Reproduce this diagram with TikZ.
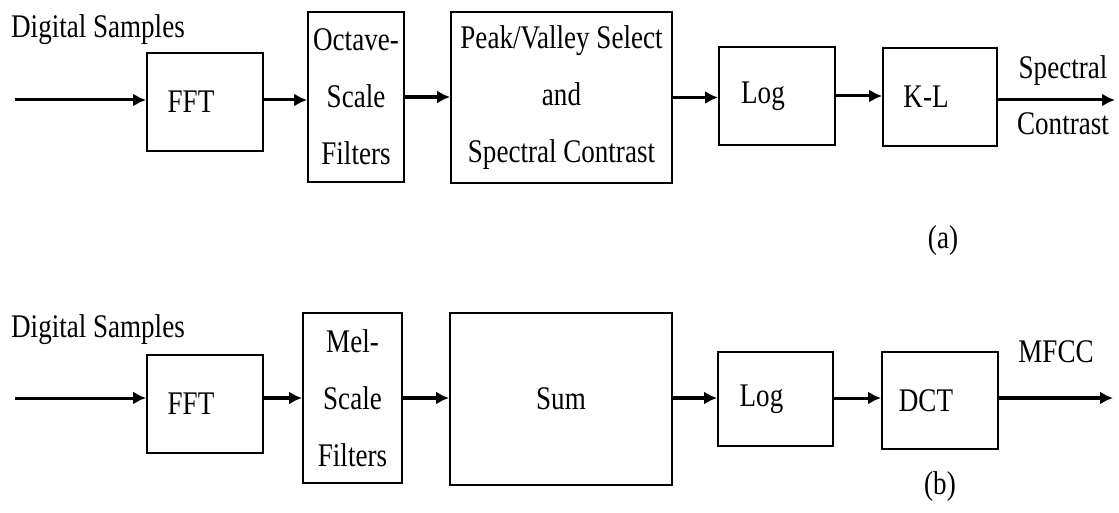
\documentclass[tikz,border=0pt]{standalone}
\usepackage{fontspec}
\setmainfont{Liberation Serif}[FakeStretch=0.82]
\usetikzlibrary{arrows.meta}
\begin{document}
\begin{tikzpicture}[x=1pt,y=-1pt,
  box/.style={draw, line width=1.8pt, inner sep=0pt},
  lbl/.style={font=\fontsize{33}{38}\selectfont, inner sep=0pt},
  inlbl/.style={lbl, xshift=-14pt},
  txt/.style={font=\fontsize{33}{57}\selectfont, align=center},
  arr/.style={line width=3pt, -{Latex[length=13pt,width=13pt]}},
  heavy/.style={arr, line width=4.2pt}]
\useasboundingbox (0,0) rectangle (1119,513);

% ---------- (a) spectral contrast ----------
\node[lbl] (digA) at (98,30) {Digital Samples};
\node[box, minimum width=116pt, minimum height=98pt,
      label={[inlbl]center:FFT}] (fftA) at (205,102) {};
\node[box, txt, minimum width=96pt, minimum height=170pt] (octA) at (356,97)
      {Octave-\\Scale\\Filters};
\node[box, txt, minimum width=221pt, minimum height=171pt] (pvA) at (561.5,97.5)
      {Peak/Valley Select\\and\\Spectral Contrast};
\node[box, minimum width=116pt, minimum height=98pt,
      label={[inlbl]center:Log}] (logA) at (777,96) {};
\node[box, minimum width=114pt, minimum height=98pt,
      label={[inlbl]center:K-L}] (klA) at (940,97) {};
\node[lbl, align=center, font=\fontsize{33}{56}\selectfont] (outTxtA) at (1063,95)
      {Spectral\\Contrast};
\node[lbl] (capA) at (943,241) {(a)};

\coordinate (inA) at (15,100);
\coordinate (outA) at (1115,100);
\draw[arr] (inA) -- (inA -| fftA.west);
\draw[arr] (fftA.east |- inA) -- (octA.west |- inA);
\draw[heavy] (octA.east) -- (octA.east -| pvA.west);
\draw[arr] (pvA.east) -- (pvA.east -| logA.west);
\draw[arr] (logA.east) -- (logA.east -| klA.west);
\draw[arr] (klA.east |- outA) -- (outA);

% ---------- (b) MFCC ----------
\node[lbl] (digB) at (98,330) {Digital Samples};
\node[box, minimum width=116pt, minimum height=98pt,
      label={[inlbl]center:FFT}] (fftB) at (205,404) {};
\node[box, txt, minimum width=99pt, minimum height=170pt] (melB) at (352.5,398)
      {Mel-\\Scale\\Filters};
\node[box, minimum width=222pt, minimum height=172pt,
      label={[lbl]center:Sum}] (sumB) at (561,399) {};
\node[box, minimum width=115pt, minimum height=94pt,
      label={[inlbl]center:Log}] (logB) at (775.5,399) {};
\node[box, minimum width=116pt, minimum height=97pt,
      label={[inlbl]center:DCT}] (dctB) at (940,400.5) {};
\node[lbl] (mfccB) at (1056,352) {MFCC};
\node[lbl] (capB) at (940,487) {(b)};

\coordinate (inB) at (15,398);
\coordinate (outB) at (1113,398);
\draw[arr] (inB) -- (inB -| fftB.west);
\draw[heavy] (fftB.east |- inB) -- (melB.west |- inB);
\draw[heavy] (melB.east |- inB) -- (sumB.west |- inB);
\draw[heavy] (sumB.east |- inB) -- (logB.west |- inB);
\draw[arr] (logB.east |- inB) -- (dctB.west |- inB);
\draw[heavy] (dctB.east |- outB) -- (outB);
\end{tikzpicture}
\end{document}
